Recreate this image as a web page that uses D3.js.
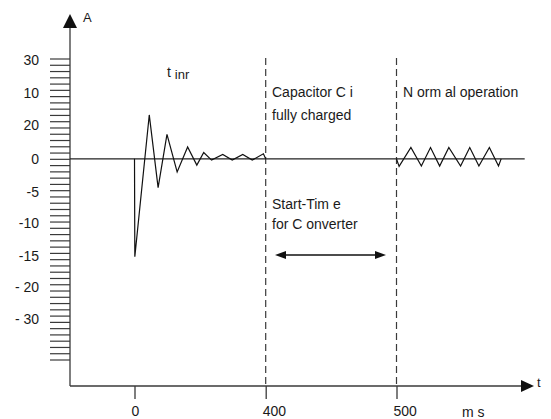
<!DOCTYPE html>
<html lang="en">
<head>
    <meta charset="UTF-8">
    <title>Inrush current</title>
    <script src="https://d3js.org/d3.v7.min.js"></script>
    <style>
        body { margin: 0; background: #fff; }
        text { font-family: "Liberation Sans", Arial, sans-serif; fill: #1a1a1a; }
    </style>
</head>
<body>
    <script>

        // data (y in axis divisions, t in ms)
        var yTickLabels = ['30', '10', '20', '0', '-5', '-10', '-15', '- 20', '- 30']
        var yTickPos = [15.8, 10.5, 5.3, 0, -5.3, -10.2, -15.5, -20.5, -25.6]
        var xTickValues = [0, 400, 500]
        var markers = [400, 500]

        var inrushT = [0, 1, 45, 72, 99, 130, 162, 190, 211, 235, 269, 298, 330, 359, 393, 400]
        var inrushV = [0, -15.6, 7.0, -4.6, 3.9, -2.1, 1.9, -1.0, 1.0, -0.2, 0.7, -0.2, 0.7, -0.2, 0.8, 0]

        var normalT = [500, 502, 511, 519, 526, 533, 540, 549, 556, 563, 571, 578, 580]
        var normalV = [0, -1.2, 1.8, -1.15, 1.8, -1.15, 1.8, -1.15, 1.8, -1.15, 1.8, -1.15, 0]

        //set d3
        var w = 551, h = 419
        var svg = d3.select('body')
                    .append('svg')
                    .attr('width', w)
                    .attr('height', h)

        var axisX = 70, axisY = 386

        // broken time axis: 0..400 and 400..500 get the same width
        var xScale = d3.scaleLinear()
                        .domain([0, 400, 500])
                        .range([134.5, 265.7, 396.5])

        var yScale = d3.scaleLinear()
                        .domain([-32, 16])
                        .range([359.5, 58.5])

        var axisColor = '#3a3a3a'

        //y axis with dense ticks
        svg.append('g')
            .attr('transform', 'translate(' + axisX + ',0)')
            .call(d3.axisLeft(yScale)
                .tickValues(d3.range(-32, 17))
                .tickSize(20)
                .tickFormat(''))
            .call(g => g.select('.domain').remove())
            .selectAll('line')
            .attr('stroke', axisColor)
            .attr('stroke-width', 1.2)

        svg.append('line')
            .attr('x1', axisX).attr('x2', axisX)
            .attr('y1', 26).attr('y2', axisY)
            .attr('stroke', axisColor).attr('stroke-width', 1.3)

        svg.append('path')
            .attr('d', 'M' + axisX + ',14 L' + (axisX - 7) + ',28 L' + (axisX + 7) + ',28 Z')
            .attr('fill', '#111')

        svg.append('text')
            .attr('x', 83).attr('y', 22)
            .attr('font-size', 13)
            .text('A')

        svg.selectAll('.ylab')
            .data(yTickLabels)
            .enter()
            .append('text')
            .attr('class', 'ylab')
            .attr('x', 39)
            .attr('y', (d, i) => yScale(yTickPos[i]))
            .attr('dy', '0.35em')
            .attr('text-anchor', 'end')
            .attr('font-size', 14)
            .text(d => d)

        //x axis
        svg.append('line')
            .attr('x1', axisX).attr('x2', 524)
            .attr('y1', axisY).attr('y2', axisY)
            .attr('stroke', axisColor).attr('stroke-width', 1.3)

        svg.append('path')
            .attr('d', 'M534,' + axisY + ' L521,' + (axisY - 6) + ' L521,' + (axisY + 6) + ' Z')
            .attr('fill', '#111')

        svg.append('text')
            .attr('x', 537).attr('y', axisY + 1)
            .attr('font-size', 13)
            .text('t')

        var xAxis = svg.append('g')
            .attr('transform', 'translate(0,' + axisY + ')')
            .call(d3.axisBottom(xScale)
                .tickValues(xTickValues)
                .tickSize(13)
                .tickPadding(7.5))
            .call(g => g.select('.domain').remove())

        xAxis.selectAll('line')
            .attr('stroke', axisColor).attr('stroke-width', 1.3)
        xAxis.selectAll('text')
            .attr('font-size', 14)
            .attr('font-family', '"Liberation Sans", Arial, sans-serif')
            .attr('fill', '#1a1a1a')
            .attr('text-anchor', 'start')
            .attr('dx', -3.5)

        svg.append('text')
            .attr('x', 462).attr('y', 416.5)
            .attr('font-size', 14)
            .text('m s')

        //dashed markers
        svg.selectAll('.marker')
            .data(markers)
            .enter()
            .append('line')
            .attr('class', 'marker')
            .attr('x1', d => xScale(d)).attr('x2', d => xScale(d))
            .attr('y1', 58).attr('y2', axisY)
            .attr('stroke', axisColor)
            .attr('stroke-width', 1.2)
            .attr('stroke-dasharray', '7,4')

        //zero line
        svg.append('line')
            .attr('x1', axisX).attr('x2', xScale(598))
            .attr('y1', yScale(0)).attr('y2', yScale(0))
            .attr('stroke', '#222').attr('stroke-width', 1.2)

        //traces
        var line = d3.line()
                    .x(d => xScale(d[0]))
                    .y(d => yScale(d[1]))

        var traces = [d3.zip(inrushT, inrushV), d3.zip(normalT, normalV)]

        svg.selectAll('.trace')
            .data(traces)
            .enter()
            .append('path')
            .attr('class', 'trace')
            .attr('d', line)
            .attr('fill', 'none')
            .attr('stroke', '#111')
            .attr('stroke-width', 1.2)
            .attr('stroke-linejoin', 'miter')

        //annotations
        var t1 = svg.append('text')
            .attr('x', 167).attr('y', 77)
            .attr('font-size', 14)
        t1.append('tspan').text('t ')
        t1.append('tspan').attr('dy', 1.5).attr('font-size', 13).text('inr')

        svg.append('text').attr('x', 272).attr('y', 97).attr('font-size', 14).text('Capacitor C i')
        svg.append('text').attr('x', 272).attr('y', 120).attr('font-size', 14).text('fully charged')
        svg.append('text').attr('x', 403).attr('y', 97).attr('font-size', 14).text('N orm al operation')
        svg.append('text').attr('x', 272).attr('y', 209).attr('font-size', 14).text('Start-Tim e')
        svg.append('text').attr('x', 272).attr('y', 229).attr('font-size', 14).text('for C onverter')

        //double arrow
        var ay = 255, ax1 = 275, ax2 = 386
        svg.append('line')
            .attr('x1', ax1 + 6).attr('x2', ax2 - 6)
            .attr('y1', ay).attr('y2', ay)
            .attr('stroke', '#111').attr('stroke-width', 1.3)
        svg.append('path')
            .attr('d', 'M' + ax1 + ',' + ay + ' L' + (ax1 + 11) + ',' + (ay - 4) + ' L' + (ax1 + 11) + ',' + (ay + 4) + ' Z')
            .attr('fill', '#111')
        svg.append('path')
            .attr('d', 'M' + ax2 + ',' + ay + ' L' + (ax2 - 11) + ',' + (ay - 4) + ' L' + (ax2 - 11) + ',' + (ay + 4) + ' Z')
            .attr('fill', '#111')

    </script>
</body>
</html>
